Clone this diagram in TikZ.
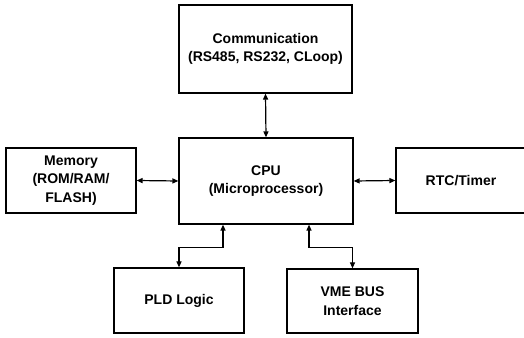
\documentclass[tikz,border=0pt]{standalone}
\usepackage{fontspec}
\setmainfont{Liberation Sans}
\usetikzlibrary{arrows.meta}
\begin{document}
\begin{tikzpicture}[x=1pt,y=1pt,
  blk/.style={draw=black,line width=1.2pt,rectangle,inner sep=0pt,align=center,
    font=\fontsize{14}{18.5}\selectfont\bfseries},
  link/.style={line width=1.2pt,{Triangle[length=6pt,width=5pt]}-{Triangle[length=6pt,width=5pt]}}]
\useasboundingbox (0,0) rectangle (524,337);
\clip (0,0) rectangle (524,337);
\fill[white] (0,0) rectangle (524,337);
\node[blk,minimum width=173pt,minimum height=88pt] (comm) at (265.5,288) {Communication\\(RS485, RS232, CLoop)};
\node[blk,minimum width=174pt,minimum height=86pt] (cpu) at (266,156) {CPU\\(Microprocessor)};
\node[blk,minimum width=130pt,minimum height=65pt] (mem) at (71,156.5) {Memory\\(ROM/RAM/\\FLASH)};
\node[blk,minimum width=130pt,minimum height=65pt] (rtc) at (461,156.5) {RTC/Timer};
\node[blk,minimum width=130pt,minimum height=65pt] (pld) at (179,36.5) {PLD Logic};
\node[blk,minimum width=131pt,minimum height=64pt] (vme) at (352.5,36) {VME BUS\\Interface};
\draw[link] (comm.south) -- (cpu.north);
\draw[link] (mem.east) -- (cpu.west);
\draw[link] (cpu.east) -- (rtc.west);
\draw[link] ([xshift=-43pt]cpu.south) -- ++(0,-23) -| (pld.north);
\draw[link] ([xshift=43pt]cpu.south) -- ++(0,-23) -| (vme.north);
\end{tikzpicture}
\end{document}
